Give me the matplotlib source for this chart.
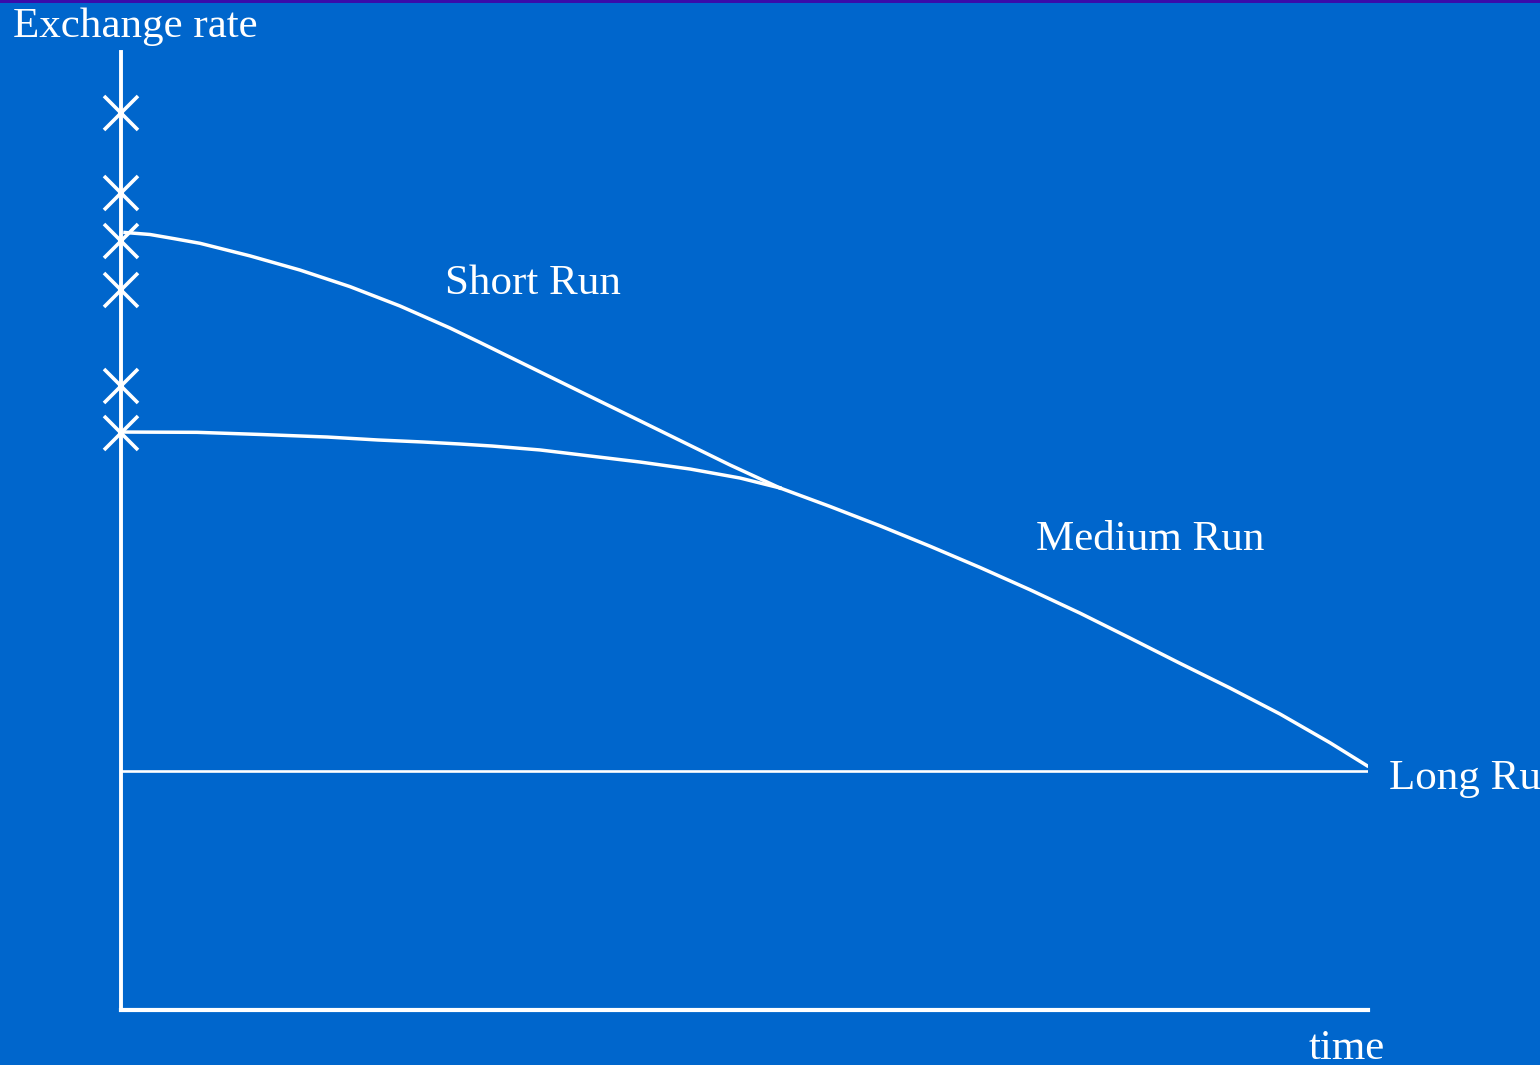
"""
Exchange rate path: short run, medium run and long run.
"""
import matplotlib
matplotlib.use('Agg')
import matplotlib.pyplot as plt

# Data (time 0..100, exchange rate 0..100)
short_time = [0.32, 2.33, 4.33, 6.34, 10.34, 14.35, 18.36, 22.37, 26.38, 28.79,
              32.80, 36.81, 40.82, 44.83, 48.84, 52.85]
short_rate = [81.16, 80.95, 80.50, 80.03, 78.72, 77.24, 75.51, 73.49, 71.19, 69.68,
              67.12, 64.56, 62.01, 59.45, 56.89, 54.49]

medium_time = [0, 6.09, 11.31, 16.52, 20.61, 24.22, 27.19, 29.75, 33.60, 37.61,
               41.62, 45.63, 49.64, 52.85]
medium_rate = [60.33, 60.30, 60.07, 59.81, 59.50, 59.29, 59.08, 58.87, 58.46, 57.83,
               57.20, 56.47, 55.53, 54.49]

tail_time = [52.85, 56.86, 60.87, 64.88, 68.89, 72.89, 76.90, 80.91, 84.92, 88.93,
             92.94, 96.95, 99.92]
tail_rate = [54.49, 52.56, 50.54, 48.41, 46.19, 43.87, 41.43, 38.83, 36.19, 33.61,
             30.90, 27.90, 25.50]

long_run = 24.9
cross_rates = [93.6, 85.3, 80.3, 75.2, 65.1, 60.2]

BG = '#0066CC'
FG = 'white'

plt.rcParams['font.family'] = ['Liberation Serif', 'DejaVu Serif']

fig = plt.figure(figsize=(15.4, 10.65), dpi=100, facecolor=BG)
fig.add_artist(plt.Rectangle((0, 1 - 3 / 1065), 1, 3 / 1065,
                             transform=fig.transFigure, color='#3A0DAA', lw=0))

ax = fig.add_axes([121 / 1540, 55 / 1065, 1247 / 1540, 958 / 1065])
ax.set_facecolor(BG)
ax.set_xlim(0, 100)
ax.set_ylim(0, 100)
ax.set_xticks([])
ax.set_yticks([])
for side in ['top', 'right']:
    ax.spines[side].set_visible(False)
ax.spines['left'].set_color(FG)
ax.spines['left'].set_linewidth(2.8)
ax.spines['bottom'].set_color(FG)
ax.spines['bottom'].set_linewidth(3.0)

# curves
ax.plot(short_time, short_rate, color=FG, lw=2.5, solid_joinstyle='round')
ax.plot(medium_time, medium_rate, color=FG, lw=2.5, solid_joinstyle='round')
ax.plot(tail_time, tail_rate, color=FG, lw=2.5, solid_joinstyle='round')
ax.plot([0, 100], [long_run, long_run], color=FG, lw=1.9)

# crosses on the exchange rate axis
ax.plot([0] * len(cross_rates), cross_rates, linestyle='none', marker='x',
        markersize=24, markeredgewidth=2.6, color=FG, clip_on=False)

# labels
fig.text(13 / 1540, 1 - 27 / 1065, 'Exchange rate', color=FG, fontsize=31,
         va='center', ha='left')
ax.text(33.0, 75.8, 'Short Run', color=FG, fontsize=31, ha='center', va='center')
ax.text(82.5, 49.1, 'Medium Run', color=FG, fontsize=31, ha='center', va='center')
fig.text(1389 / 1540, 1 - 779 / 1065, 'Long Run', color=FG, fontsize=31,
         va='center', ha='left')
fig.text(1347 / 1540, 1 - 1049 / 1065, 'time', color=FG, fontsize=31,
         va='center', ha='center')

plt.savefig('out.png', dpi=100, facecolor=BG)
